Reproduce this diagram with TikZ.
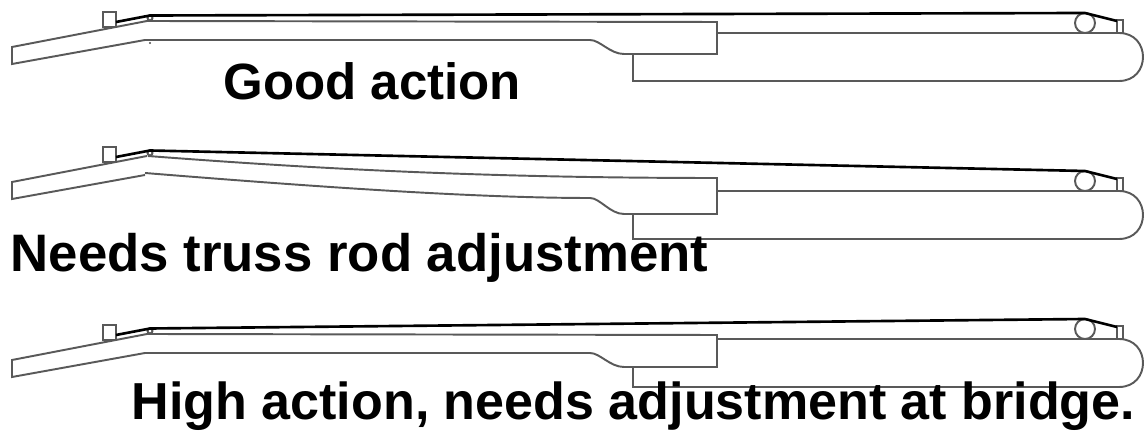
\documentclass[tikz,border=0pt]{standalone}
\usepackage{fontspec}
\setmainfont{Liberation Sans}

\begin{document}
\begin{tikzpicture}[x=0.01cm, y=-0.01cm,
    outline/.style={draw=black!65, line width=0.55pt},
    string/.style={draw=black, line width=0.75pt},
    caption/.style={font=\bfseries\fontsize{#1}{18}\selectfont, anchor=base west, inner sep=0pt}]
    \useasboundingbox (0,0) rectangle (1145,431);

    \foreach \i/\dy in {1/0, 2/135, 3/313} {
        \begin{scope}[shift={(0,\dy)}]
            \draw[outline] (145,40) -- (12,64) -- (12,47) -- (147,21);
            \draw[outline] (103,27) rectangle (116,12);
            \draw[outline, fill=white] (150,18) circle[radius=2.5];
            \coordinate (post\i) at (116,22);
            \coordinate (nut\i) at (150,15.5);
        \end{scope}
    }

    \foreach \i/\dy/\heel in {1/0/54, 2/158/56, 3/306/61} {
        \begin{scope}[shift={(0,\dy)}]
            \draw[outline] (717,33) -- (1119,33) .. controls (1151,33) and (1151,81) .. (1119,81) -- (633,81) -- (633,\heel);
            \draw[outline] (1085,23) circle[radius=10];
            \draw[outline] (1117,33) rectangle (1123,20);
            \coordinate (saddle\i) at (1085,13);
            \coordinate (tail\i) at (1117,21);
        \end{scope}
    }

    % straight necks
    \foreach \dy in {0, 313} {
        \draw[outline, shift={(0,\dy)}] (145,40) -- (590,40) .. controls (600,40) and (610,54) .. (624,54) -- (717,54) -- (717,22) -- (147,21);
    }
    % bowed neck
    \draw[outline] (145,173) .. controls (330,188) and (480,198) .. (590,198) .. controls (600,198) and (610,214) .. (624,214) -- (717,214) -- (717,178) .. controls (500,178) and (330,170) .. (148,156);

    \fill[black!70] (150,43) circle[radius=1.2];

    \foreach \i in {1,2,3} {
        \draw[string] (post\i) -- (nut\i) -- (saddle\i) -- (tail\i);
    }

    \node[caption=14.5] (good) at (223,100) {Good action};
    \node[caption=15] (truss) at (10,272) {Needs truss rod adjustment};
    \node[caption=14.8] (high) at (131,419.5) {High action, needs adjustment at bridge.};
\end{tikzpicture}
\end{document}
